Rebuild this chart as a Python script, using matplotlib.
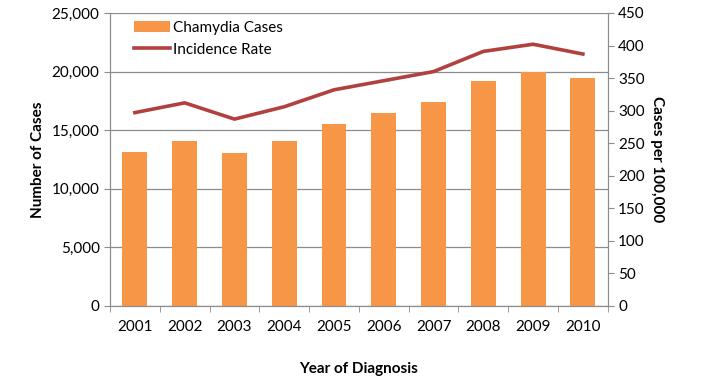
import matplotlib
matplotlib.use("Agg")
from matplotlib import pyplot as plt

years = ['2001', '2002', '2003', '2004', '2005', '2006', '2007', '2008', '2009', '2010']
cases = [13150, 14050, 13050, 14100, 15500, 16450, 17400, 19200, 20000, 19450]
rates = [297, 312, 287, 306, 332, 346, 360, 391, 402, 387]

plt.rcParams['font.family'] = ['Lato', 'DejaVu Sans']

grey = '#8c8c8c'
fig = plt.figure(figsize=(7.10, 3.82), dpi=100)
ax = fig.add_axes([0.155, 0.199, 0.701, 0.767])
ax2 = ax.twinx()

x = range(len(years))
bars = ax.bar(x, cases, width=0.5, color='#F79646', label='Chamydia Cases', zorder=2)
line, = ax2.plot(x, rates, color='#B0413E', lw=2.6, label='Incidence Rate')

ax.set_xlim(-0.5, len(years) - 0.5)
ax.set_ylim(0, 25000)
ax2.set_ylim(0, 450)
ax.set_yticks(range(0, 25001, 5000))
ax.set_yticklabels([f'{v:,}' for v in range(0, 25001, 5000)])
ax2.set_yticks(range(0, 451, 50))
ax.set_xticks(x)
ax.set_xticklabels(years)
ax.set_xticks([i - 0.5 for i in range(len(years) + 1)], minor=True)

ax.yaxis.grid(True, color=grey, lw=0.9, zorder=0)
ax.set_axisbelow(True)

for a in (ax, ax2):
    a.spines['top'].set_visible(False)
    for s in ('left', 'right', 'bottom'):
        a.spines[s].set_color(grey)
    a.tick_params(colors=grey, labelcolor='black', labelsize=11)
ax.tick_params(axis='x', which='major', length=0, pad=10)
ax.tick_params(axis='x', which='minor', length=4, color=grey)
ax.tick_params(axis='y', length=4)
ax2.tick_params(axis='y', length=4)

ax.set_ylabel('Number of Cases', fontsize=11, fontweight='bold', labelpad=5)
ax2.set_ylabel('Cases per 100,000', fontsize=11, fontweight='bold', rotation=270, labelpad=14)
ax.set_xlabel('Year of Diagnosis', fontsize=11, fontweight='bold', labelpad=20)

ax.legend([bars, line], ['Chamydia Cases', 'Incidence Rate'], loc='upper left',
          bbox_to_anchor=(0.02, 1.02), frameon=False, fontsize=11, handlelength=2.4,
          handletextpad=0.2, labelspacing=0.5)

fig.savefig('out.png', dpi=100)
